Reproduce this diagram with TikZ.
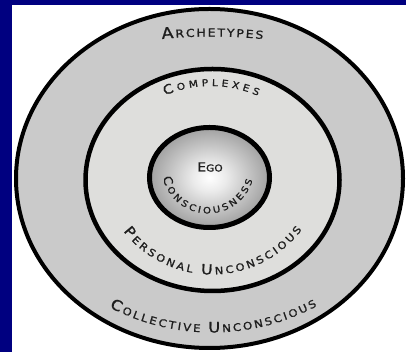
\documentclass[tikz,border=0pt]{standalone}
\usepackage{fontspec}
\setmainfont{DejaVu Sans}[FakeStretch=1.12, FakeBold=1.2]
\usetikzlibrary{shapes.geometric,decorations.text}
\definecolor{slideblue}{RGB}{0,0,128}
\definecolor{outergray}{RGB}{202,202,202}
\definecolor{midgray}{RGB}{222,222,220}
\definecolor{inkgray}{RGB}{30,30,30}
\pgfdeclareradialshading{egoshade}{\pgfpoint{0bp}{0bp}}{color(0bp)=(white); color(7bp)=(black!8); color(28bp)=(black!42); color(44bp)=(black!66); color(50bp)=(black!78)}
\begin{document}
\begin{tikzpicture}[x=1pt,y=1pt,
        ringn/.style={draw=black, ellipse, inner sep=0pt},
        outern/.style={ringn, fill=outergray, line width=4pt, minimum width=387pt, minimum height=339pt},
        midn/.style={ringn, fill=midgray, line width=4.5pt, minimum width=254pt, minimum height=222pt},
        egon/.style={ringn, shade, shading=egoshade, line width=5pt, minimum width=120pt, minimum height=100pt},
        curved/.style={decorate, decoration={text along path, text align=fit to path, text color=inkgray, text={#1}}},
    ]
    \useasboundingbox (0,0) rectangle (406,352);
    % slide background
    \fill[slideblue] (0,0) rectangle (406,352);
    \fill[white] (12,0) rectangle (406,347);

    \node[outern] (outer) at (209.5,173.5) {};
    \node[midn] (mid) at (212.5,172) {};
    \node[egon] (ego) at (209.5,174.5) {};
    \node[text=inkgray, inner sep=0pt] (egolabel) at (210,185)
        {\fontsize{12.5}{12.5}\selectfont E\fontsize{9.5}{9.5}\selectfont GO};

    % centres of the lettering arcs
    \coordinate (archc) at (212,-184.5);
    \coordinate (compc) at (211,150);
    \coordinate (consc) at (208,185);
    \coordinate (persc) at (212,190);
    \coordinate (collc) at (212,241);

    \path[curved={|\fontsize{15.5}{15.5}\selectfont|A|\fontsize{11}{11}\selectfont|RCHETYPES}]
        ([shift={(95.74:500)}]archc) arc[start angle=95.74, end angle=84.15, radius=500];
    \path[curved={|\fontsize{13}{13}\selectfont|C|\fontsize{9.5}{9.5}\selectfont|OMPLEXES}]
        ([shift={(113.4:116)}]compc) arc[start angle=113.4, end angle=66.1, radius=116];
    \path[curved={|\fontsize{12}{12}\selectfont|C|\fontsize{9}{9}\selectfont|ONSCIOUSNESS}]
        ([shift={(193:46.5)}]consc) arc[start angle=193, end angle=343.5, radius=46.5];
    \path[curved={|\fontsize{14}{14}\selectfont|P|\fontsize{10.2}{10.2}\selectfont|ERSONAL |\fontsize{14}{14}\selectfont|U|\fontsize{10.2}{10.2}\selectfont|NCONSCIOUS}]
        ([shift={(218:112.5)}]persc) arc[start angle=218, end angle=323, radius=112.5];
    \path[curved={|\fontsize{14.5}{14.5}\selectfont|C|\fontsize{10.5}{10.5}\selectfont|OLLECTIVE |\fontsize{14.5}{14.5}\selectfont|U|\fontsize{10.5}{10.5}\selectfont|NCONSCIOUS}]
        ([shift={(242.4:221.5)}]collc) arc[start angle=242.4, end angle=298.3, radius=221.5];
\end{tikzpicture}
\end{document}
